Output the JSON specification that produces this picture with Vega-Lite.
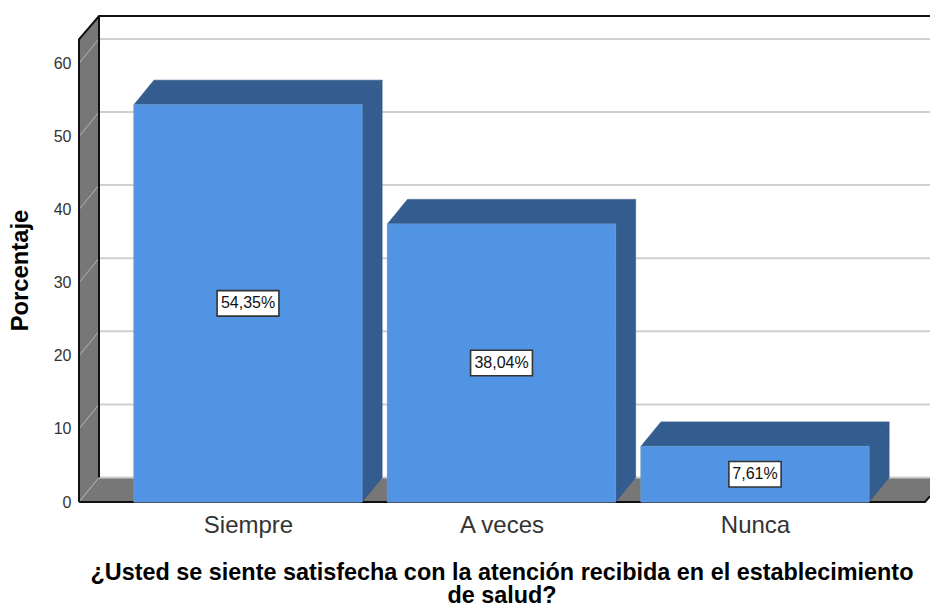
{"$schema":"https://vega.github.io/schema/vega-lite/v6.json","width":851,"height":486,"autosize":"none","padding":{"left":79,"top":16,"right":0,"bottom":102},"background":"white","config":{"view":{"stroke":null},"font":"Liberation Sans"},
"datasets":{
"wall":[{"x":0.3333,"y":0,"y2":63.27},{"x":0.4122,"y":3.35,"y2":66.48}],
"floor":[{"x":0.3333,"y":0,"y2":0},{"x":0.4122,"y":0,"y2":3.35},{"x":3.6706,"y":0,"y2":3.35},{"x":3.6903,"y":0.8,"y2":3.35}],
"grid":[{"x":0.4122,"x2":3.6903,"y":3.35},{"x":0.4122,"x2":3.6903,"y":13.35},{"x":0.4122,"x2":3.6903,"y":23.35},{"x":0.4122,"x2":3.6903,"y":33.35},{"x":0.4122,"x2":3.6903,"y":43.35},{"x":0.4122,"x2":3.6903,"y":53.35},{"x":0.4122,"x2":3.6903,"y":63.35}],
"diag":[{"id":0,"x":0.3333,"y":0},{"id":0,"x":0.4122,"y":3.35},{"id":10,"x":0.3333,"y":10},{"id":10,"x":0.4122,"y":13.35},{"id":20,"x":0.3333,"y":20},{"id":20,"x":0.4122,"y":23.35},{"id":30,"x":0.3333,"y":30},{"id":30,"x":0.4122,"y":33.35},{"id":40,"x":0.3333,"y":40},{"id":40,"x":0.4122,"y":43.35},{"id":50,"x":0.3333,"y":50},{"id":50,"x":0.4122,"y":53.35},{"id":60,"x":0.3333,"y":60},{"id":60,"x":0.4122,"y":63.35}],
"edges":[{"id":"a","o":1,"x":0.3333,"y":0},{"id":"a","o":2,"x":0.3333,"y":63.27},{"id":"a","o":3,"x":0.4122,"y":66.48},{"id":"a","o":4,"x":3.6903,"y":66.48},{"id":"b","o":1,"x":0.4122,"y":66.48},{"id":"b","o":2,"x":0.4122,"y":3.35},{"id":"c","o":1,"x":0.3333,"y":0},{"id":"c","o":2,"x":3.6706,"y":0},{"id":"c","o":3,"x":3.6903,"y":0.8}],
"faces":[{"id":"s1","x":1.45,"y":0,"y2":54.35},{"id":"s1","x":1.529,"y":3.35,"y2":57.7},{"id":"t1","x":0.55,"y":54.35,"y2":54.35},{"id":"t1","x":0.629,"y":54.35,"y2":57.7},{"id":"t1","x":1.45,"y":54.35,"y2":57.7},{"id":"t1","x":1.529,"y":57.7,"y2":57.7},{"id":"s2","x":2.45,"y":0,"y2":38.04},{"id":"s2","x":2.529,"y":3.35,"y2":41.39},{"id":"t2","x":1.55,"y":38.04,"y2":38.04},{"id":"t2","x":1.629,"y":38.04,"y2":41.39},{"id":"t2","x":2.45,"y":38.04,"y2":41.39},{"id":"t2","x":2.529,"y":41.39,"y2":41.39},{"id":"s3","x":3.45,"y":0,"y2":7.61},{"id":"s3","x":3.529,"y":3.35,"y2":10.96},{"id":"t3","x":2.55,"y":7.61,"y2":7.61},{"id":"t3","x":2.629,"y":7.61,"y2":10.96},{"id":"t3","x":3.45,"y":7.61,"y2":10.96},{"id":"t3","x":3.529,"y":10.96,"y2":10.96}],
"bars":[{"cat":"Siempre","x":0.55,"x2":1.45,"y":0,"y2":54.35},{"cat":"A veces","x":1.55,"x2":2.45,"y":0,"y2":38.04},{"cat":"Nunca","x":2.55,"x2":3.45,"y":0,"y2":7.61}],
"boxes":[{"x":0.878,"x2":1.122,"y":25.43,"y2":28.92},{"x":1.878,"x2":2.122,"y":17.27,"y2":20.76},{"x":2.897,"x2":3.103,"y":2.06,"y2":5.55}],
"labels":[{"x":1,"y":27.175,"label":"54,35%"},{"x":2,"y":19.02,"label":"38,04%"},{"x":3,"y":3.805,"label":"7,61%"}]
},
"encoding":{
"x":{"field":"x","type":"quantitative","scale":{"domain":[0.3333,3.6903],"nice":false,"zero":false},"axis":{"values":[1,2,3],"labelExpr":"datum.value==1?'Siempre':datum.value==2?'A veces':'Nunca'","grid":false,"domain":false,"ticks":false,"labelPadding":11,"labelFontSize":24,"labelColor":"#333333","labelFont":"Liberation Sans","title":["¿Usted se siente satisfecha con la atención recibida en el establecimiento","de salud?"],"titleFont":"Liberation Sans","titleFontSize":23.4,"titleFontWeight":"bold","titleColor":"#000000","titlePadding":24,"titleLineHeight":23,"titleX":422.5}},
"y":{"field":"y","type":"quantitative","stack":false,"scale":{"domain":[0,66.48],"nice":false,"zero":false},"axis":{"values":[0,10,20,30,40,50,60],"grid":false,"domain":false,"ticks":false,"labelPadding":8,"labelFontSize":16,"labelColor":"#333333","labelFont":"Liberation Sans","title":"Porcentaje","titleFont":"Liberation Sans","titleFontSize":23.8,"titleFontWeight":"bold","titleColor":"#000000","titlePadding":21,"titleY":254}}
},
"layer":[
{"data":{"name":"wall"},"mark":{"type":"area","color":"#777777"},"encoding":{"y2":{"field":"y2"}}},
{"data":{"name":"floor"},"mark":{"type":"area","color":"#777777"},"encoding":{"y2":{"field":"y2"}}},
{"data":{"name":"grid"},"mark":{"type":"rule","color":"#cfcfcf","strokeWidth":2},"encoding":{"x2":{"field":"x2"}}},
{"data":{"name":"diag"},"mark":{"type":"line","color":"#b5b5b5","strokeWidth":1},"encoding":{"detail":{"field":"id"}}},
{"data":{"name":"edges"},"mark":{"type":"line","color":"#111111","strokeWidth":2},"encoding":{"detail":{"field":"id"},"order":{"field":"o"}}},
{"data":{"name":"faces"},"mark":{"type":"area","color":"#345d8f","stroke":"#2f5583","strokeWidth":0.6},"encoding":{"y2":{"field":"y2"},"detail":{"field":"id"}}},
{"data":{"name":"bars"},"mark":{"type":"rect","color":"#5294e4","stroke":"#6a97d0","strokeWidth":1},"encoding":{"x2":{"field":"x2"},"y2":{"field":"y2"}}},
{"data":{"name":"boxes"},"mark":{"type":"rect","fill":"#ffffff","stroke":"#333333","strokeWidth":1.6},"encoding":{"x2":{"field":"x2"},"y2":{"field":"y2"}}},
{"data":{"name":"labels"},"mark":{"type":"text","fontSize":16,"color":"#111111","font":"Liberation Sans","baseline":"middle","align":"center"},"encoding":{"text":{"field":"label"}}}
]}
